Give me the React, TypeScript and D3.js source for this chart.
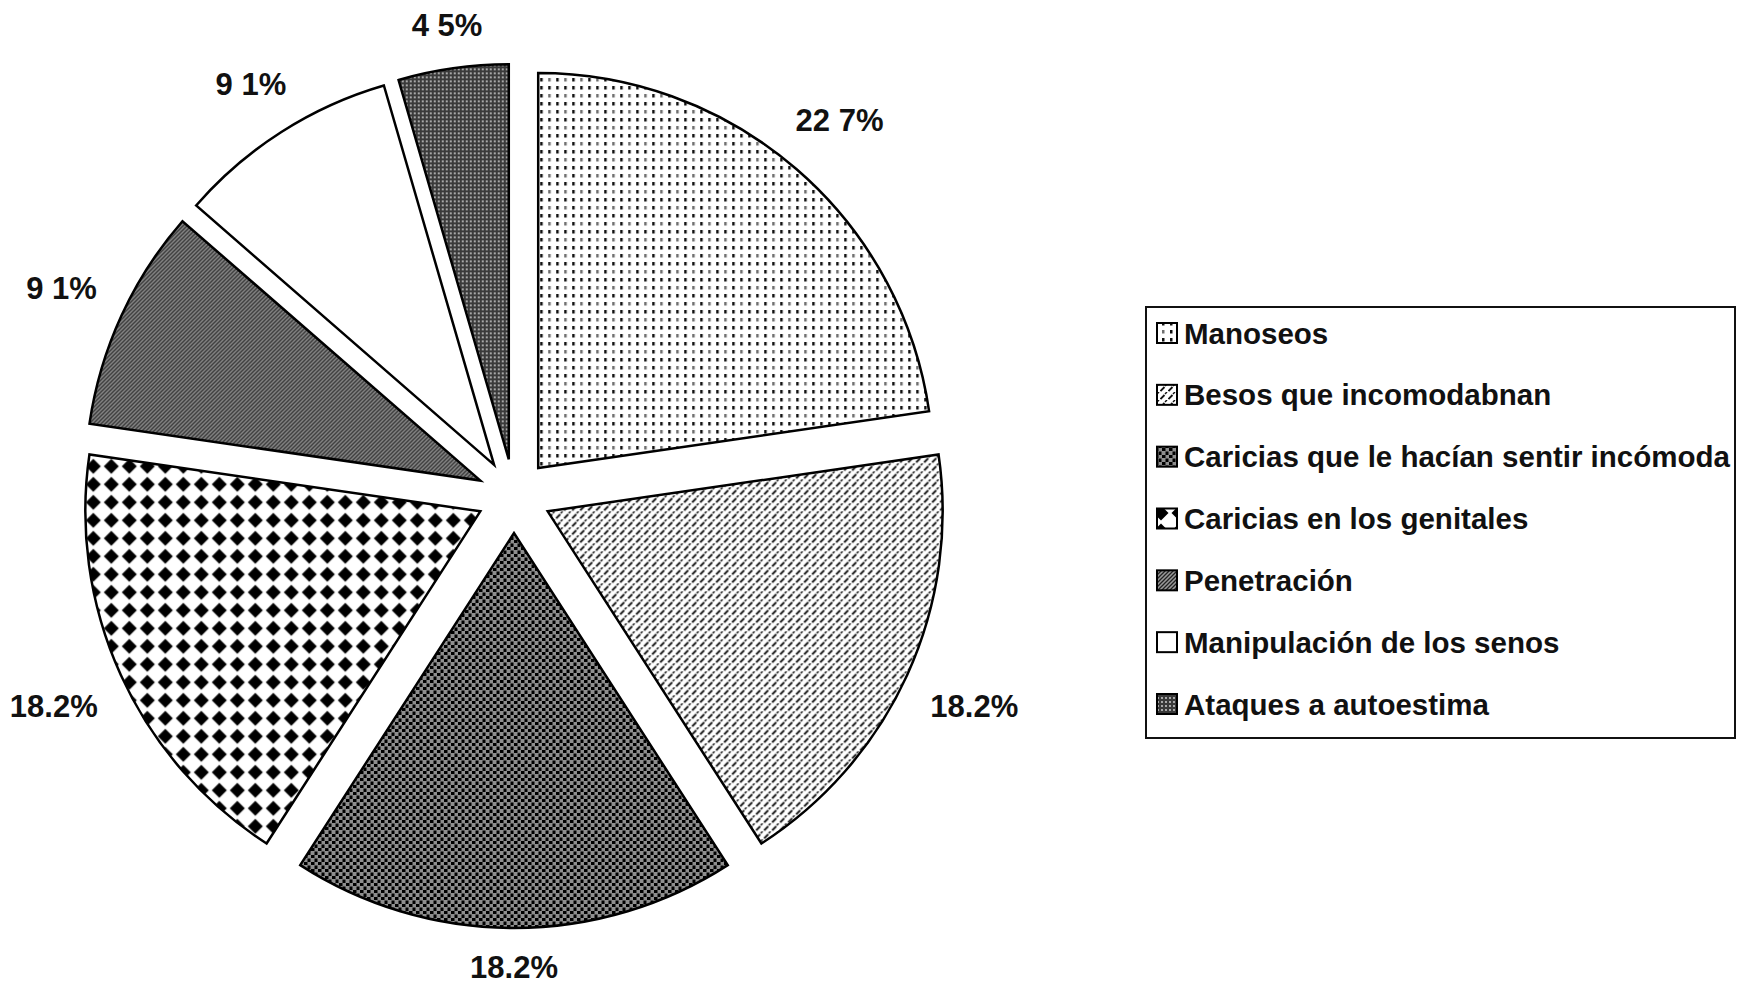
import * as d3 from 'd3';

const categories = [
  'Manoseos',
  'Besos que incomodabnan',
  'Caricias que le hacían sentir incómoda',
  'Caricias en los genitales',
  'Penetración',
  'Manipulación de los senos',
  'Ataques a autoestima',
];
const values = [22.7, 18.2, 18.2, 18.2, 9.1, 9.1, 4.5];
const valueLabels = ['22 7%', '18.2%', '18.2%', '18.2%', '9 1%', '9 1%', '4 5%'];
const patternIds = ['p-dots', 'p-dash', 'p-stipple', 'p-diamond', 'p-hatch', 'p-white', 'p-grid'];

const W = 1740;
const H = 986;
const FONT = "'Liberation Sans', Arial, sans-serif";

// rough Arial-bold advance widths, used to push labels out past the rim
const charW = (c: string) => (c === '%' ? 0.889 : c === '.' || c === ' ' ? 0.278 : 0.556);
const textWidth = (s: string, size: number) => [...s].reduce((a, c) => a + charW(c), 0) * size;

function Patterns() {
  return (
    <defs>
      <pattern id="p-dots" width={16} height={16} patternUnits="userSpaceOnUse">
        <rect width={16} height={16} fill="#fff" />
        <rect x={2} y={2} width={2.5} height={3.5} fill="#111" />
        <rect x={10} y={2} width={2.5} height={3.5} fill="#111" />
        <rect x={2} y={10} width={2.5} height={3.5} fill="#111" />
        <rect x={10} y={10} width={2.5} height={3.5} fill="#111" opacity={0.6} />
      </pattern>
      <pattern id="p-dash" width={8} height={8} patternUnits="userSpaceOnUse">
        <rect width={8} height={8} fill="#fff" />
        <line x1={0.5} y1={7} x2={4.5} y2={3} stroke="#111" strokeWidth={1.8} />
        <line x1={5} y1={2} x2={7} y2={0} stroke="#111" strokeWidth={1.5} />
      </pattern>
      <pattern id="p-stipple" width={7} height={7} patternUnits="userSpaceOnUse">
        <rect width={7} height={7} fill="#8e8e8e" />
        <rect x={0} y={0} width={3.5} height={3} fill="#000" />
        <rect x={3.5} y={3.5} width={3} height={3.5} fill="#000" />
      </pattern>
      <pattern id="p-diamond" width={18} height={18} patternUnits="userSpaceOnUse">
        <rect width={18} height={18} fill="#fff" />
        <polygon points="9,1.5 16.5,9 9,16.5 1.5,9" fill="#000" />
      </pattern>
      <pattern id="p-hatch" width={4} height={4} patternUnits="userSpaceOnUse">
        <rect width={4} height={4} fill="#9a9a9a" />
        <path d="M-1,1 L1,-1 M0,4 L4,0 M3,5 L5,3" stroke="#222" strokeWidth={1.3} />
      </pattern>
      <pattern id="p-white" width={4} height={4} patternUnits="userSpaceOnUse">
        <rect width={4} height={4} fill="#fff" />
      </pattern>
      <pattern id="p-grid" width={4} height={4} patternUnits="userSpaceOnUse">
        <rect width={4} height={4} fill="#3a3a3a" />
        <circle cx={2} cy={2} r={0.9} fill="#ddd" />
      </pattern>
    </defs>
  );
}

export default function App() {
  const cx = 514;
  const cy = 496;
  const radius = 395;
  const explode = 37;
  const labelSize = 31;
  const legendSize = 29.5;

  const pie = d3
    .pie<number>()
    .sort(null)
    .value((d) => d)
    .startAngle(0)
    .endAngle(2 * Math.PI);
  const arcs = pie(values);
  const arc = d3.arc<d3.PieArcDatum<number>>().innerRadius(0).outerRadius(radius);

  // legend layout
  const legend = { x: 1146, y: 307, w: 589, h: 431 };
  const rowY = d3
    .scalePoint<number>()
    .domain(d3.range(categories.length))
    .range([legend.y + 26, legend.y + legend.h - 34]);

  return (
    <svg
      width={W}
      height={H}
      style={{ position: 'absolute', left: 0, top: 0, background: '#fff' }}
    >
      <Patterns />
      <rect width={W} height={H} fill="#fff" />

      {/* Exploded slices */}
      <g transform={`translate(${cx}, ${cy})`}>
        {arcs.map((a, i) => {
          const mid = (a.startAngle + a.endAngle) / 2;
          const dx = Math.sin(mid) * explode;
          const dy = -Math.cos(mid) * explode;
          return (
            <path
              key={categories[i]}
              d={arc(a) ?? undefined}
              transform={`translate(${dx}, ${dy})`}
              fill={`url(#${patternIds[i]})`}
              stroke="#000"
              strokeWidth={2.5}
              strokeLinejoin="miter"
            />
          );
        })}

        {/* Percent labels */}
        {arcs.map((a, i) => {
          const mid = (a.startAngle + a.endAngle) / 2;
          const s = Math.sin(mid);
          const c = Math.cos(mid);
          const hw = textWidth(valueLabels[i], labelSize) / 2;
          const r = 462 + Math.abs(s) * hw + Math.abs(c) * 9;
          return (
            <text
              key={`lbl-${i}`}
              x={s * r}
              y={-c * r}
              dy="0.36em"
              textAnchor="middle"
              fontFamily={FONT}
              fontWeight="bold"
              fontSize={labelSize}
              fill="#111"
            >
              {valueLabels[i]}
            </text>
          );
        })}
      </g>

      {/* Legend */}
      <rect
        x={legend.x}
        y={legend.y}
        width={legend.w}
        height={legend.h}
        fill="#fff"
        stroke="#111"
        strokeWidth={2}
      />
      {categories.map((name, i) => {
        const y = rowY(i) ?? 0;
        return (
          <g key={`leg-${i}`}>
            <rect
              x={legend.x + 11}
              y={y - 10}
              width={20}
              height={20}
              fill={`url(#${patternIds[i]})`}
              stroke="#000"
              strokeWidth={2}
            />
            <text
              x={legend.x + 38}
              y={y}
              dy="0.36em"
              fontFamily={FONT}
              fontWeight="bold"
              fontSize={legendSize}
              fill="#111"
            >
              {name}
            </text>
          </g>
        );
      })}
    </svg>
  );
}
